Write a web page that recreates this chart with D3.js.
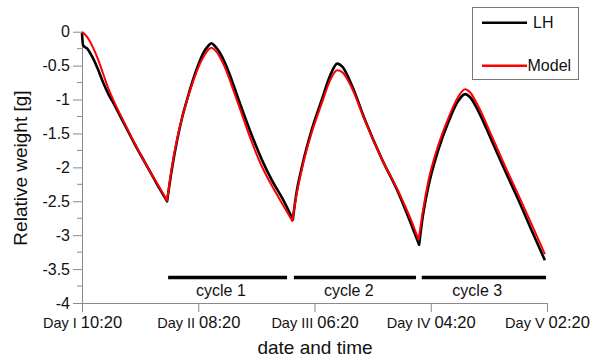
<!DOCTYPE html>
<html><head><meta charset="utf-8">
<script src="https://cdn.jsdelivr.net/npm/d3@7"></script>
<style>body{margin:0;background:#fff}svg{display:block}text{font-family:"Liberation Sans",Arial,sans-serif}</style>
</head><body><svg id="c" width="593" height="358"></svg>
<script>
// hours since Day I 10:20
const modelHours = [0,1,2,3,4,5,6,8,10,12,14,16.1,17,18,19,20,21,22,23,24,24.5,25,26,27,28,29,30,32,34,36,38,39.8,40.5,41.6,43.5,45.4,47,48.3,49.3,51,53.6,56.7,59.9,62.4,63.7,64.5,65.5,67.4,69.3,71.2,72.5,73.5,75,77.5,80,82.6,85.1,87.6];
const modelValues = [0,-0.08,-0.22,-0.40,-0.62,-0.84,-1.02,-1.34,-1.65,-1.94,-2.21,-2.49,-2.0,-1.58,-1.25,-0.98,-0.74,-0.53,-0.37,-0.26,-0.235,-0.26,-0.36,-0.52,-0.72,-0.94,-1.16,-1.6,-1.98,-2.28,-2.55,-2.79,-2.45,-2.03,-1.48,-1.05,-0.71,-0.57,-0.6,-0.82,-1.32,-1.87,-2.36,-2.8,-3.07,-2.65,-2.22,-1.68,-1.28,-0.96,-0.85,-0.9,-1.1,-1.53,-1.97,-2.41,-2.84,-3.28];
const lhHours = [0,0.2,1,2,3,4,5,6,8,10,12,14,16.1,17,18,19,20,21,22,23,24,24.5,25,26,27,28,29,30,32,34,36,38,39.9,40.5,41.6,43.5,45.4,47,48.3,49.3,51,53.6,56.7,59.9,62.4,63.8,64.5,65.5,67.4,69.3,71.2,72.5,73.5,75,77.5,80,82.6,85.1,87.6];
const lhValues = [-0.02,-0.2,-0.25,-0.38,-0.55,-0.75,-0.92,-1.06,-1.36,-1.66,-1.94,-2.22,-2.5,-2.03,-1.6,-1.25,-0.97,-0.71,-0.49,-0.31,-0.2,-0.17,-0.2,-0.3,-0.45,-0.64,-0.86,-1.08,-1.5,-1.88,-2.2,-2.47,-2.77,-2.42,-2.0,-1.44,-1.0,-0.64,-0.47,-0.52,-0.78,-1.31,-1.87,-2.38,-2.86,-3.14,-2.72,-2.3,-1.75,-1.34,-1.02,-0.92,-0.97,-1.17,-1.6,-2.04,-2.48,-2.93,-3.37];
const xTickHours = [0,22,44,66,88];
const xTickDays = ["Day I","Day II","Day III","Day IV","Day V"];
const xTickTimes = ["10:20","08:20","06:20","04:20","02:20"];
const yTicks = [0,-0.5,-1,-1.5,-2,-2.5,-3,-3.5,-4];
const yMinor = [-0.25,-0.75,-1.25,-1.75,-2.25,-2.75,-3.25,-3.75];
const cycleNames = ["cycle 1","cycle 2","cycle 3"];
const cycleStart = [16.3,40.1,64.3];
const cycleEnd = [38.8,63.2,87.8];
const cycleLabelHour = [26.3,50.5,74.8];
const cycleLevel = -3.625;
const seriesNames = ["LH","Model"];
const seriesColors = ["#000000","#ff0000"];

const svg = d3.select("#c");
const x = d3.scaleLinear().domain([0,88]).range([82,547]);
const y = d3.scaleLinear().domain([-4,0]).range([303,31.7]);
const axisColor = "#8a8a8a";

// y axis
const yAx = svg.append("g").attr("transform","translate(82,0)")
  .call(d3.axisLeft(y).tickValues(yTicks).tickSize(9).tickSizeOuter(0).tickFormat(d=>String(d)));
yAx.select(".domain").attr("stroke",axisColor);
yAx.selectAll(".tick line").attr("stroke",axisColor);
yAx.selectAll(".tick text").attr("font-size",16).attr("fill","#111").attr("x",-12);
svg.append("g").selectAll("line").data(yMinor).join("line")
  .attr("x1",77).attr("x2",82).attr("y1",d=>y(d)).attr("y2",d=>y(d)).attr("stroke",axisColor);

// x axis
const xAx = svg.append("g").attr("transform","translate(0,303)")
  .call(d3.axisBottom(x).tickValues(xTickHours).tickSize(9).tickSizeOuter(0).tickFormat(""));
xAx.select(".domain").attr("stroke",axisColor);
xAx.selectAll(".tick line").attr("stroke",axisColor);
xAx.selectAll(".tick text").each(function(d,i){
  const t = d3.select(this).attr("y",18).attr("dy","0.71em").attr("fill","#111");
  t.append("tspan").attr("font-size",14.5).text(xTickDays[i]+" ");
  t.append("tspan").attr("font-size",16.5).text(xTickTimes[i]);
});

// axis titles
svg.append("text").attr("x",315).attr("y",354).attr("text-anchor","middle").attr("font-size",19).attr("fill","#111").text("date and time");
svg.append("text").attr("transform","translate(27,168) rotate(-90)").attr("text-anchor","middle").attr("font-size",19).attr("fill","#111").text("Relative weight [g]");

// cycle bars
svg.append("g").selectAll("line").data(cycleNames).join("line")
  .attr("x1",(d,i)=>x(cycleStart[i])).attr("x2",(d,i)=>x(cycleEnd[i]))
  .attr("y1",y(cycleLevel)).attr("y2",y(cycleLevel)).attr("stroke","#000").attr("stroke-width",3.5);
svg.append("g").selectAll("text").data(cycleNames).join("text")
  .attr("x",(d,i)=>x(cycleLabelHour[i])).attr("y",y(cycleLevel)+18).attr("text-anchor","middle")
  .attr("font-size",16).attr("fill","#111").text(d=>d);

// lines: smooth within each drying/wetting leg, sharp corners at the minima
const line = d3.line().x(d=>x(d[0])).y(d=>y(d[1])).curve(d3.curveMonotoneX);
function segPath(hs, vs){
  const pts = hs.map((h,i)=>[h,vs[i]]);
  const cuts = [0];
  for(let i=1;i<pts.length-1;i++) if(vs[i]<vs[i-1] && vs[i]<vs[i+1]) cuts.push(i);
  cuts.push(pts.length-1);
  let d = "";
  for(let k=0;k<cuts.length-1;k++){
    const p = line(pts.slice(cuts[k],cuts[k+1]+1));
    d += (k===0) ? p : "L" + p.slice(1);
  }
  return d;
}
svg.append("path").attr("d",segPath(lhHours,lhValues))
  .attr("fill","none").attr("stroke",seriesColors[0]).attr("stroke-width",2.6).attr("stroke-linejoin","round");
svg.append("path").attr("d",segPath(modelHours,modelValues))
  .attr("fill","none").attr("stroke",seriesColors[1]).attr("stroke-width",2).attr("stroke-linejoin","round");

// legend
const lg = svg.append("g");
lg.append("rect").attr("x",472.5).attr("y",7.5).attr("width",106).attr("height",72).attr("fill","#fff").attr("stroke","#777");
const ly = [22.7,65.7];
lg.selectAll("line").data(seriesNames).join("line")
  .attr("x1",482).attr("x2",527).attr("y1",(d,i)=>ly[i]).attr("y2",(d,i)=>ly[i])
  .attr("stroke",(d,i)=>seriesColors[i]).attr("stroke-width",2.6);
lg.selectAll("text").data(seriesNames).join("text")
  .attr("x",(d,i)=>i===0?533:527.5).attr("y",(d,i)=>ly[i]).attr("dy","0.36em")
  .attr("font-size",16).attr("fill","#111").text(d=>d);
</script></body></html>
